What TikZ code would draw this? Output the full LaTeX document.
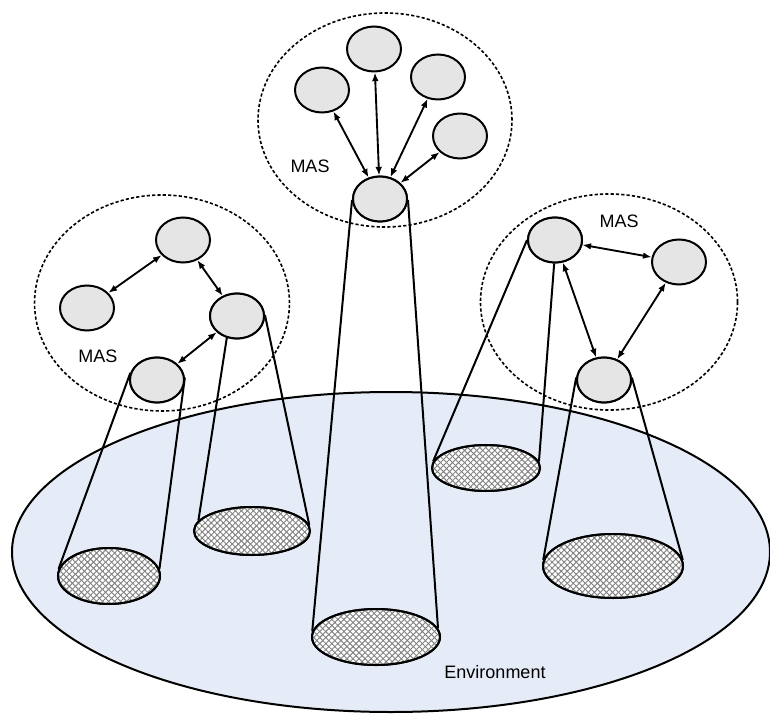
\documentclass[tikz,border=0pt]{standalone}
\usepackage{fontspec}
\setmainfont{Liberation Sans}
\usetikzlibrary{shapes.geometric,arrows.meta,patterns.meta}
\definecolor{envblue}{RGB}{230,236,247}
\definecolor{agentgray}{RGB}{229,229,229}
\definecolor{hatchgray}{RGB}{130,130,130}
\begin{document}
\begin{tikzpicture}[x=0.75pt,y=-0.75pt,
  agent/.style={ellipse,draw,line width=1.5pt,fill=agentgray,inner sep=0pt,minimum width=40.5pt,minimum height=33.75pt},
  footbase/.style={ellipse,draw,line width=1.5pt,inner sep=0pt},
  masring/.style={draw,line width=1.2pt,dash pattern=on 2.4pt off 1.6pt},
  link/.style={line width=1.4pt,{Latex[length=6.5pt,width=5pt]}-{Latex[length=6.5pt,width=5pt]}},
  cone/.style={line width=1.5pt},
  lbl/.style={font=\fontsize{13.5}{16}\selectfont}
]
\useasboundingbox (0,0) rectangle (770,716);
% environment
\node[ellipse,draw,line width=1.5pt,fill=envblue,inner sep=0pt,minimum width=568.5pt,minimum height=240pt] (env) at (391,552) {};
\node[lbl] (envlbl) at (495,672) {Environment};

% MAS rings
\draw[masring] (385,120) ellipse [x radius=95.25pt, y radius=80.25pt];
\draw[masring] (162,303) ellipse [x radius=95.6pt, y radius=81pt];
\draw[masring] (609,302) ellipse [x radius=96.4pt, y radius=81pt];

% feet (hatched)
\foreach \n/\x/\y/\w/\h in {fh/376/637/96/42, fl4/109/576/76.5/42, fl3/252/531/87/36, fr1/486/468/81/34.5, fr3/613/566/105/48}{
  \node[footbase,fill=white,minimum width=\w pt,minimum height=\h pt] (\n) at (\x,\y) {};
  \path[pattern={Lines[angle=45,distance=3.2pt,line width=0.7pt]},pattern color=hatchgray] (\x,\y) ellipse [x radius=\w pt/2, y radius=\h pt/2];
  \path[pattern={Lines[angle=-45,distance=3.2pt,line width=0.7pt]},pattern color=hatchgray] (\x,\y) ellipse [x radius=\w pt/2, y radius=\h pt/2];
  \node[footbase,minimum width=\w pt,minimum height=\h pt] at (\x,\y) {};
}

% agents
\node[agent] (t1) at (322,90) {};
\node[agent] (t2) at (374,49) {};
\node[agent] (t3) at (438,77) {};
\node[agent] (t4) at (460,136) {};
\node[agent] (th) at (380,199) {};

\node[agent] (l1) at (183,240) {};
\node[agent] (l2) at (87,308) {};
\node[agent] (l3) at (237,316) {};
\node[agent] (l4) at (157,380) {};

\node[agent] (r1) at (555,240) {};
\node[agent] (r2) at (679,262) {};
\node[agent] (r3) at (604,380) {};

% cones
\draw[cone] (th.182) -- (fh.175);
\draw[cone] (th.-2) -- (fh.8);
\draw[cone] (l4.165) -- (fl4.172);
\draw[cone] (l4.5) -- (fl4.8);
\draw[cone] (l3.245) -- (fl3.169);
\draw[cone] (l3.2) -- (fl3.6);
\draw[cone] (r1.180) -- (fr1.173);
\draw[cone] (r1.268) -- (fr1.7);
\draw[cone] (r3.175) -- (fr3.175);
\draw[cone] (r3.5) -- (fr3.5);

% redraw agents over cone ends
\foreach \a in {th,l3,l4,r1,r3}{ \node[agent] at (\a) {}; }

% links
\draw[link] (th) -- (t1);
\draw[link] (th) -- (t2);
\draw[link] (th) -- (t3);
\draw[link] (th) -- (t4);
\draw[link] (l2) -- (l1);
\draw[link] (l1) -- (l3);
\draw[link] (l3) -- (l4);
\draw[link] (r1) -- (r2);
\draw[link] (r1) -- (r3);
\draw[link] (r2) -- (r3);

% labels
\node[lbl] (mtop) at (310,166) {MAS};
\node[lbl] (mleft) at (98,356) {MAS};
\node[lbl] (mright) at (619,221) {MAS};
\end{tikzpicture}
\end{document}
